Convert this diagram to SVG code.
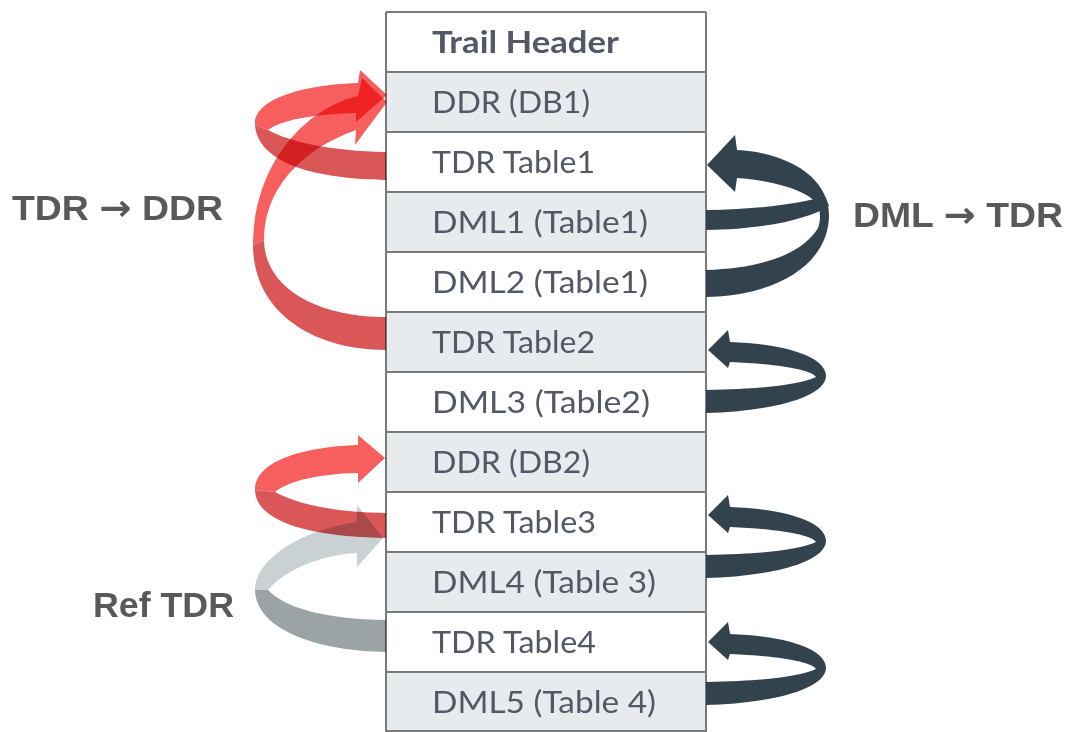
<svg xmlns="http://www.w3.org/2000/svg" width="1066" height="732" viewBox="0 0 1066 732">
<style>
.rw{fill:#ffffff}
.rg{fill:#e7ebee}
.cell{font-family:Lato,"Open Sans","Liberation Sans",sans-serif;font-size:30px;fill:#525866}
.hdr{font-weight:bold}
.lbl{font-family:"Liberation Sans",Arial,sans-serif;font-weight:bold;font-size:35px;fill:#595959}
.arr{font-family:"DejaVu Sans",sans-serif;font-weight:bold;font-size:36px}
.grid{stroke:#7a7a7a;stroke-width:2;fill:none}
.dark{fill:#33434e}
.redF{fill:#d95757}
.redB{fill:#f75e5e}
.grayF{fill:#9ca3a6}
.grayB{fill:#c9d1d4}
.blend{mix-blend-mode:multiply}
</style>
<rect width="1066" height="732" fill="#ffffff"/>
<g id="table">
  <g id="row-trail-header"><rect class="rw" x="386" y="12" width="320" height="60"/><text class="cell hdr" x="432" y="53" textLength="187" lengthAdjust="spacingAndGlyphs">Trail Header</text></g>
  <g id="row-ddr-db1"><rect class="rg" x="386" y="72" width="320" height="60"/><text class="cell" x="432" y="113" textLength="158" lengthAdjust="spacingAndGlyphs">DDR (DB1)</text></g>
  <g id="row-tdr-table1"><rect class="rw" x="386" y="132" width="320" height="60"/><text class="cell" x="432" y="173" textLength="163" lengthAdjust="spacingAndGlyphs">TDR Table1</text></g>
  <g id="row-dml1"><rect class="rg" x="386" y="192" width="320" height="60"/><text class="cell" x="432" y="233" textLength="216" lengthAdjust="spacingAndGlyphs">DML1 (Table1)</text></g>
  <g id="row-dml2"><rect class="rw" x="386" y="252" width="320" height="60"/><text class="cell" x="432" y="293" textLength="216" lengthAdjust="spacingAndGlyphs">DML2 (Table1)</text></g>
  <g id="row-tdr-table2"><rect class="rg" x="386" y="312" width="320" height="60"/><text class="cell" x="432" y="353" textLength="163" lengthAdjust="spacingAndGlyphs">TDR Table2</text></g>
  <g id="row-dml3"><rect class="rw" x="386" y="372" width="320" height="60"/><text class="cell" x="432" y="413" textLength="218" lengthAdjust="spacingAndGlyphs">DML3 (Table2)</text></g>
  <g id="row-ddr-db2"><rect class="rg" x="386" y="432" width="320" height="60"/><text class="cell" x="432" y="473" textLength="158" lengthAdjust="spacingAndGlyphs">DDR (DB2)</text></g>
  <g id="row-tdr-table3"><rect class="rw" x="386" y="492" width="320" height="60"/><text class="cell" x="432" y="533" textLength="164" lengthAdjust="spacingAndGlyphs">TDR Table3</text></g>
  <g id="row-dml4"><rect class="rg" x="386" y="552" width="320" height="60"/><text class="cell" x="432" y="593" textLength="224" lengthAdjust="spacingAndGlyphs">DML4 (Table 3)</text></g>
  <g id="row-tdr-table4"><rect class="rw" x="386" y="612" width="320" height="60"/><text class="cell" x="432" y="653" textLength="164" lengthAdjust="spacingAndGlyphs">TDR Table4</text></g>
  <g id="row-dml5"><rect class="rg" x="386" y="672" width="320" height="60"/><text class="cell" x="432" y="713" textLength="224" lengthAdjust="spacingAndGlyphs">DML5 (Table 4)</text></g>
  <path class="grid" d="M386,12H706M386,72H706M386,132H706M386,192H706M386,252H706M386,312H706M386,372H706M386,432H706M386,492H706M386,552H706M386,612H706M386,672H706M386,731H706M386,12V732M706,12V732"/>
</g>
<g id="labels">
  <text class="lbl" x="12" y="220" textLength="211" lengthAdjust="spacingAndGlyphs">TDR <tspan class="arr">→</tspan> DDR</text>
  <text class="lbl" x="853" y="227" textLength="210" lengthAdjust="spacingAndGlyphs">DML <tspan class="arr">→</tspan> TDR</text>
  <text class="lbl" x="93" y="617" textLength="141" lengthAdjust="spacingAndGlyphs">Ref TDR</text>
</g>
<g id="connectors">
  <g id="arrow-ref-tdr" class="blend">
    <path class="grayF" d="M386,652 C318,651 256,630 255,590 L268,590 C285,608 325,619 386,620 Z"/>
    <path class="grayB" d="M255,590 C255,560 300,530 357,522 L357,505 L383,538 L357,567 L357,553 C320,555 285,570 268,590 Z"/>
  </g>
  <g id="arrow-tdr3-ddr2" class="blend">
    <path class="redF" d="M386,538 C320,537 256,525 255,490 L275,492 C295,503 330,512 386,513 Z"/>
    <path class="redB" d="M255,490 C255,462 300,447 358,445 L358,435 L385,458 L358,483 L358,473 C320,474 290,480 275,492 Z"/>
  </g>
  <g id="arrow-tdr2-ddr1" class="blend">
    <path class="redF" d="M386,350 C310,350 253,310 253,245 L264,240 C265,290 320,317 386,317 Z"/>
    <path class="redB" d="M253,245 C253,170 300,110 358,96 L362,78 L387,102 L355,145 L356,130 C300,150 264,190 264,240 Z"/>
  </g>
  <g id="arrow-tdr1-ddr1" class="blend">
    <path class="redF" d="M386,180 C320,179 258,165 255,125 L268,130 C290,142 330,151 386,152 Z"/>
    <path class="redB" d="M255,125 C253,100 300,85 358,83 L360,70 L387,95 L356,122 L356,113 C320,114 285,118 268,130 Z"/>
  </g>
  <g id="arrow-dml12-tdr1">
    <path class="dark" d="M706,297 C775,296 829,265 829,215 C829,180 792,153 737,150 L735,135 L707,165 L735,192 L737,178 C780,181 810,193 816,203 C822,212 820,222 818,228 C805,250 770,268 706,270 Z"/>
    <path class="dark" d="M706,210 C760,209 800,204 825,196 L829,206 C810,218 770,229 706,230 Z"/>
  </g>
  <path id="arrow-dml3-tdr2" class="dark" d="M706,413 C760,412 825,400 826,376 C826,358 790,344 730,342 L728,330 L708,350 L728,368 L730,362 C780,364 812,370 816,377 C800,384 770,389 706,390 Z"/>
  <path id="arrow-dml4-tdr3" class="dark" transform="translate(0,165)" d="M706,413 C760,412 825,400 826,376 C826,358 790,344 730,342 L728,330 L708,350 L728,368 L730,362 C780,364 812,370 816,377 C800,384 770,389 706,390 Z"/>
  <path id="arrow-dml5-tdr4" class="dark" transform="translate(0,292)" d="M706,413 C760,412 825,400 826,376 C826,358 790,344 730,342 L728,330 L708,350 L728,368 L730,362 C780,364 812,370 816,377 C800,384 770,389 706,390 Z"/>
</g>
</svg>
